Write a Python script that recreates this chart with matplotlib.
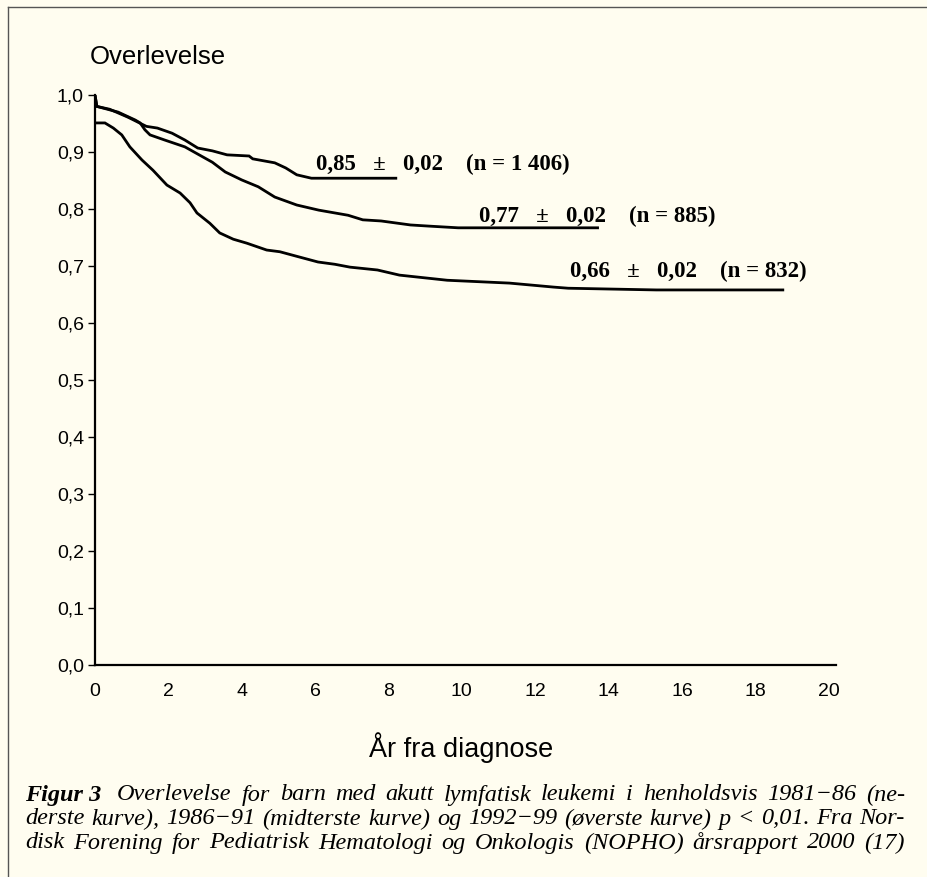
import matplotlib
matplotlib.use('Agg')
import matplotlib.pyplot as plt
from matplotlib.lines import Line2D

# --- data ---
# 1992-99 (upper curve)
t_9299 = [0, 0.05, 0.4, 0.9, 1.4, 1.7, 2.1, 2.45, 2.8, 3.2, 3.6, 4.2, 4.3, 4.9, 5.2, 5.5, 5.9, 8.2]
s_9299 = [1.0, 0.98, 0.975, 0.961, 0.945, 0.942, 0.933, 0.921, 0.907, 0.902, 0.895, 0.893,
          0.888, 0.881, 0.872, 0.86, 0.854, 0.854]
# 1986-91 (middle curve)
t_8691 = [0, 0.05, 0.63, 1.1, 1.23, 1.36, 1.5, 1.9, 2.45, 2.7, 3.2, 3.55, 4.0, 4.45, 4.9,
          5.5, 6.1, 6.9, 7.3, 7.8, 8.6, 9.1, 9.9, 13.7]
s_8691 = [1.0, 0.98, 0.97, 0.956, 0.951, 0.939, 0.93, 0.921, 0.909, 0.9, 0.882, 0.865, 0.851,
          0.839, 0.821, 0.807, 0.798, 0.789, 0.781, 0.779, 0.772, 0.77, 0.767, 0.767]
# 1981-86 (lower curve)
t_8186 = [0, 0.27, 0.5, 0.73, 0.95, 1.28, 1.58, 1.96, 2.32, 2.59, 2.78, 3.13, 3.4, 3.77, 4.14,
          4.68, 5.04, 5.5, 6.08, 6.54, 6.95, 7.7, 8.3, 9.6, 11.3, 12.5, 12.9, 15.3, 18.75]
s_8186 = [0.951, 0.951, 0.942, 0.93, 0.909, 0.886, 0.868, 0.842, 0.828, 0.811, 0.793, 0.775,
          0.758, 0.747, 0.74, 0.728, 0.725, 0.717, 0.707, 0.703, 0.698, 0.693, 0.684, 0.675,
          0.67, 0.663, 0.661, 0.658, 0.658]

curve_labels = ["0,85   \u00b1   0,02    (n = 1 406)",
                "0,77   \u00b1   0,02    (n = 885)",
                "0,66   \u00b1   0,02    (n = 832)"]
label_pos = [(6.02, 0.878), (10.46, 0.787), (12.94, 0.69)]

y_ticks = [0.0, 0.1, 0.2, 0.3, 0.4, 0.5, 0.6, 0.7, 0.8, 0.9, 1.0]
x_ticks = [0, 2, 4, 6, 8, 10, 12, 14, 16, 18, 20]

caption = [
    "Overlevelse for barn med akutt lymfatisk leukemi i henholdsvis 1981\u221286 (ne-",
    "derste kurve), 1986\u221291 (midterste kurve) og 1992\u221299 (\u00f8verste kurve) p < 0,01. Fra Nor-",
    "disk Forening for Pediatrisk Hematologi og Onkologis (NOPHO) \u00e5rsrapport 2000 (17)",
]

BG = '#fffdf0'
W, H = 927, 877
CAP_FS = 17.5

fig = plt.figure(figsize=(W / 100, H / 100), dpi=100, facecolor=BG)
ax = fig.add_axes([95 / W, 1 - 665 / H, 741 / W, 570 / H], facecolor=BG)

for t, s in [(t_9299, s_9299), (t_8691, s_8691), (t_8186, s_8186)]:
    ax.plot(t, s, color='black', lw=2.0, solid_joinstyle='miter')

for txt, (x, y) in zip(curve_labels, label_pos):
    ax.text(x, y, txt, family='Liberation Serif', weight='bold', fontsize=16.5,
            ha='left', va='center')

ax.set_xlim(0, 20.2)
ax.set_ylim(0, 1.0)
ax.set_yticks(y_ticks)
ax.set_yticklabels([f"{v:.1f}".replace('.', ',') for v in y_ticks],
                   family='Liberation Sans', fontsize=14)
ax.set_xticks(x_ticks)
ax.set_xticklabels([str(v) for v in x_ticks], family='Liberation Sans', fontsize=14)
ax.tick_params(axis='y', length=5, width=1, pad=3)
ax.tick_params(axis='x', length=0, pad=13)
for sp in ['top', 'right']:
    ax.spines[sp].set_visible(False)
for sp in ['left', 'bottom']:
    ax.spines[sp].set_linewidth(1.6)

fig.text(90 / W, 1 - 57 / H, "Overlevelse", family='Liberation Sans', fontsize=18.5,
         ha='left', va='center')
fig.text(461 / W, 1 - 748 / H, "\u00c5r fra diagnose", family='Liberation Sans', fontsize=19.5,
         ha='center', va='center')

# caption, justified between x=25 and x=905 px
renderer = fig.canvas.get_renderer()
left, right = 25, 905
line_y = [795, 819, 843]


def place_words(words, x0, y):
    objs, widths = [], []
    for w in words:
        o = fig.text(0, 1 - y / H, w, family='Liberation Serif', style='italic',
                     fontsize=CAP_FS, ha='left', va='center')
        objs.append(o)
        widths.append(o.get_window_extent(renderer).width)
    gap = (right - x0 - sum(widths)) / (len(words) - 1)
    x = x0
    for o, w in zip(objs, widths):
        o.set_x(x / W)
        x += w + gap


for i, line in enumerate(caption):
    if i == 0:
        t0 = fig.text(left / W, 1 - line_y[0] / H, "Figur 3", family='Liberation Serif',
                      style='italic', weight='bold', fontsize=CAP_FS, ha='left', va='center')
        x0 = t0.get_window_extent(renderer).x1 + 16
    else:
        x0 = left
    place_words(line.split(' '), x0, line_y[i])

# frame lines (top and left)
fig.add_artist(Line2D([8 / W, 1], [1 - 7 / H, 1 - 7 / H], color='#555555', lw=1))
fig.add_artist(Line2D([8 / W, 8 / W], [0, 1 - 7 / H], color='#555555', lw=1))

fig.savefig('out.png', dpi=100, facecolor=BG)
